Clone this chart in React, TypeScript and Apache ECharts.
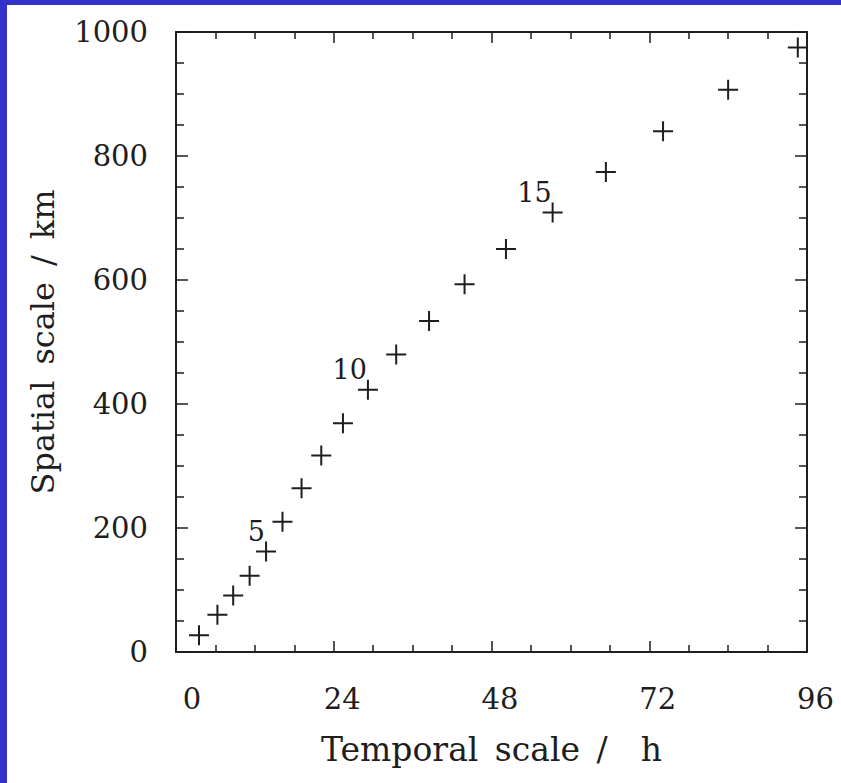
import React, { useEffect, useRef } from "react";
import * as echarts from "echarts";

// Data
const temporalHours = [3.5, 6.3, 8.7, 11.2, 13.7, 16.2, 19.1, 22.1, 25.4, 29.2, 33.5, 38.5, 43.9, 50.2, 57.3, 65.4, 74.1, 84.0, 94.6];
const spatialKm = [27, 60, 91, 123, 162, 210, 264, 317, 369, 423, 480, 534, 593, 650, 709, 774, 840, 907, 975];
const labelledIndex = [4, 9, 14];
const labelTexts = ["5", "10", "15"];
const xAxisRange = [0, 96];
const xAxisStep = 24;
const yAxisRange = [0, 1000];
const yAxisStep = 200;
const xTitle = "Temporal\u2002scale\u2002/\u2003h";
const yTitle = "Spatial\u2002scale\u2002/\u2002km";

const FONT = "DejaVu Serif";
const INK = "#1e1e1e";
const BLUE = "#3333cc";

const CROSS = "path://M9,0H11V9H20V11H11V20H9V11H0V9H9Z";

export default function App() {
  const ref = useRef<HTMLDivElement>(null);
  useEffect(() => {
    if (!ref.current) return;
    const chart = echarts.init(ref.current, undefined, { renderer: "svg" });
    const data = temporalHours.map((x, i) => {
      const li = labelledIndex.indexOf(i);
      const item: any = { value: [x, spatialKm[i]] };
      if (li >= 0) {
        item.label = {
          show: true,
          formatter: labelTexts[li],
          position: [9, -10],
          align: "right",
          verticalAlign: "middle",
          fontFamily: FONT,
          fontSize: 27,
          color: INK,
        };
      }
      return item;
    });
    const lineStyle = { color: INK, width: 2 };
    const xBase = {
      type: "value",
      min: xAxisRange[0],
      max: xAxisRange[1],
      interval: xAxisStep,
      splitLine: { show: false },
      axisLine: { show: true, onZero: false, lineStyle },
      axisTick: { show: true, inside: true, length: 11, lineStyle: { color: INK, width: 1.5 } },
      minorTick: { show: true, splitNumber: 4, length: 7, lineStyle: { color: INK, width: 1.5 } },
      minorSplitLine: { show: false },
    };
    const yBase = {
      type: "value",
      min: yAxisRange[0],
      max: yAxisRange[1],
      interval: yAxisStep,
      splitLine: { show: false },
      axisLine: { show: true, onZero: false, lineStyle },
      axisTick: { show: true, inside: true, length: 12, lineStyle: { color: INK, width: 1.5 } },
      minorTick: { show: true, splitNumber: 4, length: 8, lineStyle: { color: INK, width: 1.5 } },
      minorSplitLine: { show: false },
    };
    chart.setOption({
      animation: false,
      backgroundColor: "#ffffff",
      grid: { left: 176, top: 32, right: 34, bottom: 131, containLabel: false },
      xAxis: [
        {
          ...xBase,
          position: "bottom",
          name: xTitle,
          nameLocation: "middle",
          nameGap: 81,
          nameTextStyle: { fontFamily: FONT, fontSize: 33, color: INK },
          axisLabel: {
            show: true,
            margin: 32,
            padding: [0, 0, 0, 17],
            fontFamily: FONT,
            fontSize: 29,
            color: INK,
            formatter: (v: number) => (v === xAxisRange[0] ? "{first|" + v + "}" : String(v)),
            rich: {
              first: { fontFamily: FONT, fontSize: 29, color: INK, padding: [0, 0, 0, 15] },
            },
          },
        },
        { ...xBase, position: "top", axisLabel: { show: false } },
      ],
      yAxis: [
        {
          ...yBase,
          position: "left",
          name: yTitle,
          nameLocation: "middle",
          nameGap: 117,
          nameTextStyle: { fontFamily: FONT, fontSize: 32, color: INK },
          axisLabel: {
            show: true,
            margin: 28,
            fontFamily: FONT,
            fontSize: 29,
            color: INK,
            formatter: (v: number) => String(v),
          },
        },
        { ...yBase, position: "right", axisLabel: { show: false } },
      ],
      graphic: [
        { type: "rect", shape: { x: 0, y: 0, width: 7, height: 783 }, style: { fill: BLUE }, z: 100 },
        { type: "rect", shape: { x: 0, y: 0, width: 841, height: 5 }, style: { fill: BLUE }, z: 100 },
      ],
      series: [
        {
          type: "scatter",
          xAxisIndex: 0,
          yAxisIndex: 0,
          symbol: CROSS,
          symbolSize: 20,
          itemStyle: { color: INK, opacity: 1 },
          data,
        },
      ],
    });
    return () => chart.dispose();
  }, []);
  return (
    <div
      ref={ref}
      style={{ position: "fixed", left: 0, top: 0, width: 841, height: 783, background: "#fff" }}
    />
  );
}
